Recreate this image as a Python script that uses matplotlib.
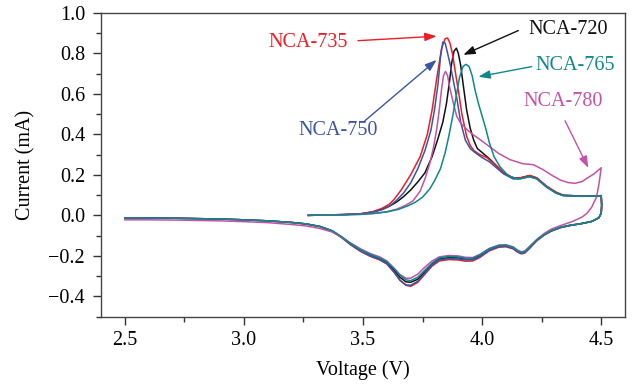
import matplotlib
matplotlib.use("Agg")
import matplotlib.pyplot as plt
from matplotlib.ticker import MultipleLocator, FuncFormatter

plt.rcParams['font.family'] = ['Liberation Serif', 'DejaVu Serif']

# ---------------- data ----------------
# Anodic sweeps (3.27 V -> 4.5 V)
V_AN_720 = [3.27, 3.35, 3.42, 3.49, 3.54, 3.58, 3.61, 3.64, 3.67, 3.70, 3.73, 3.76, 3.79, 3.815, 3.835, 3.85,
            3.862, 3.872, 3.882, 3.892, 3.90, 3.91, 3.92, 3.935, 3.95, 3.965, 3.98, 4.005, 4.03, 4.06, 4.09,
            4.13, 4.16, 4.20, 4.23, 4.27, 4.31, 4.34, 4.42, 4.50]
I_AN_720 = [0.000, 0.002, 0.004, 0.008, 0.016, 0.030, 0.045, 0.065, 0.092, 0.125, 0.165, 0.210, 0.290,
            0.380, 0.460, 0.550, 0.650, 0.750, 0.810, 0.825, 0.800, 0.740, 0.650, 0.520, 0.430, 0.370,
            0.330, 0.305, 0.280, 0.245, 0.210, 0.185, 0.185, 0.196, 0.184, 0.143, 0.113, 0.099, 0.095, 0.097]

V_AN_735 = [3.27, 3.35, 3.42, 3.49, 3.54, 3.58, 3.61, 3.63, 3.66, 3.70, 3.74, 3.77, 3.79, 3.81, 3.83, 3.845,
            3.855, 3.865, 3.875, 3.89, 3.905, 3.915, 3.935, 3.95, 3.965, 3.99, 4.02, 4.06, 4.09, 4.13, 4.16,
            4.20, 4.23, 4.27, 4.31, 4.34, 4.42, 4.50]
I_AN_735 = [0.000, 0.002, 0.004, 0.008, 0.018, 0.035, 0.055, 0.078, 0.125, 0.200, 0.290, 0.400, 0.520,
            0.680, 0.825, 0.872, 0.875, 0.850, 0.800, 0.690, 0.580, 0.500, 0.390, 0.345, 0.320, 0.300,
            0.285, 0.245, 0.210, 0.185, 0.185, 0.197, 0.185, 0.145, 0.115, 0.100, 0.095, 0.097]

V_AN_750 = [3.27, 3.35, 3.42, 3.49, 3.54, 3.58, 3.61, 3.64, 3.67, 3.70, 3.73, 3.76, 3.785, 3.80, 3.815, 3.825,
            3.835, 3.845, 3.855, 3.865, 3.88, 3.895, 3.91, 3.93, 3.95, 3.97, 4.00, 4.03, 4.06, 4.09, 4.13,
            4.16, 4.20, 4.23, 4.27, 4.31, 4.34, 4.42, 4.50]
I_AN_750 = [0.000, 0.002, 0.004, 0.007, 0.015, 0.028, 0.045, 0.073, 0.110, 0.160, 0.230, 0.320, 0.420,
            0.520, 0.650, 0.780, 0.855, 0.850, 0.800, 0.750, 0.660, 0.570, 0.460, 0.370, 0.330, 0.310,
            0.285, 0.265, 0.235, 0.205, 0.180, 0.180, 0.192, 0.180, 0.140, 0.110, 0.098, 0.094, 0.097]

V_AN_765 = [3.27, 3.35, 3.42, 3.49, 3.55, 3.60, 3.65, 3.69, 3.72, 3.75, 3.78, 3.80, 3.825, 3.845, 3.86, 3.875,
            3.89, 3.905, 3.92, 3.932, 3.945, 3.958, 3.97, 3.985, 4.00, 4.015, 4.03, 4.05, 4.075, 4.11, 4.15,
            4.20, 4.23, 4.27, 4.31, 4.34, 4.42, 4.50]
I_AN_765 = [0.000, 0.002, 0.003, 0.005, 0.010, 0.017, 0.030, 0.048, 0.065, 0.090, 0.130, 0.170, 0.230,
            0.310, 0.390, 0.480, 0.580, 0.680, 0.735, 0.745, 0.735, 0.690, 0.620, 0.550, 0.490, 0.430,
            0.360, 0.290, 0.240, 0.195, 0.180, 0.190, 0.180, 0.140, 0.110, 0.097, 0.094, 0.097]

V_AN_780 = [3.27, 3.35, 3.42, 3.49, 3.55, 3.60, 3.64, 3.68, 3.71, 3.74, 3.76, 3.78, 3.795, 3.81, 3.82, 3.83,
            3.838, 3.846, 3.855, 3.865, 3.88, 3.893, 3.91, 3.935, 3.96, 3.99, 4.03, 4.07, 4.117, 4.17, 4.215,
            4.257, 4.29, 4.327, 4.36, 4.39, 4.42, 4.44, 4.47, 4.50]
I_AN_780 = [0.000, 0.002, 0.003, 0.005, 0.010, 0.018, 0.030, 0.050, 0.072, 0.120, 0.180, 0.255, 0.330,
            0.430, 0.520, 0.625, 0.690, 0.710, 0.690, 0.625, 0.550, 0.490, 0.455, 0.425, 0.400, 0.375,
            0.340, 0.305, 0.275, 0.255, 0.250, 0.225, 0.200, 0.175, 0.162, 0.158, 0.167, 0.183, 0.205, 0.235]

# Cathodic sweeps (4.5 V -> 2.5 V)
V_CA = [4.500, 4.502, 4.500, 4.49, 4.46, 4.42, 4.37, 4.33, 4.29, 4.26, 4.23, 4.20, 4.18, 4.165, 4.15, 4.13,
        4.10, 4.07, 4.03, 3.99, 3.96, 3.93, 3.90, 3.86, 3.82, 3.79, 3.76, 3.73, 3.70, 3.68, 3.655, 3.63,
        3.60, 3.57, 3.53, 3.49, 3.45, 3.41, 3.37, 3.32, 3.26, 3.20, 3.10, 3.00, 2.90, 2.80, 2.70, 2.60, 2.50]
I_CA_720 = [0.097, 0.050, 0.010, -0.012, -0.030, -0.040, -0.049, -0.059, -0.076, -0.096, -0.122, -0.158,
            -0.181, -0.186, -0.178, -0.161, -0.150, -0.152, -0.170, -0.200, -0.215, -0.215, -0.210, -0.208,
            -0.215, -0.240, -0.278, -0.315, -0.330, -0.328, -0.305, -0.270, -0.232, -0.214, -0.196, -0.173,
            -0.143, -0.107, -0.076, -0.055, -0.042, -0.035, -0.027, -0.022, -0.018, -0.016, -0.014, -0.013, -0.012]
I_CA_735 = [0.098, 0.050, 0.010, -0.012, -0.030, -0.040, -0.050, -0.060, -0.078, -0.098, -0.125, -0.162,
            -0.185, -0.190, -0.182, -0.165, -0.155, -0.157, -0.175, -0.208, -0.225, -0.226, -0.220, -0.218,
            -0.225, -0.250, -0.290, -0.330, -0.350, -0.345, -0.320, -0.280, -0.240, -0.220, -0.202, -0.178,
            -0.147, -0.110, -0.078, -0.056, -0.043, -0.035, -0.027, -0.022, -0.018, -0.016, -0.014, -0.013, -0.012]
I_CA_750 = [0.097, 0.050, 0.010, -0.012, -0.030, -0.040, -0.050, -0.060, -0.077, -0.097, -0.123, -0.160,
            -0.183, -0.188, -0.180, -0.163, -0.152, -0.154, -0.172, -0.204, -0.220, -0.220, -0.215, -0.213,
            -0.220, -0.245, -0.285, -0.325, -0.345, -0.343, -0.320, -0.280, -0.238, -0.218, -0.200, -0.176,
            -0.145, -0.108, -0.077, -0.055, -0.042, -0.035, -0.027, -0.022, -0.018, -0.016, -0.014, -0.013, -0.012]
I_CA_765 = [0.097, 0.050, 0.010, -0.012, -0.030, -0.040, -0.048, -0.058, -0.075, -0.095, -0.120, -0.155,
            -0.178, -0.183, -0.175, -0.158, -0.147, -0.148, -0.165, -0.195, -0.212, -0.212, -0.205, -0.203,
            -0.210, -0.235, -0.270, -0.305, -0.322, -0.318, -0.295, -0.262, -0.228, -0.210, -0.192, -0.170,
            -0.140, -0.105, -0.075, -0.055, -0.042, -0.035, -0.027, -0.022, -0.018, -0.016, -0.014, -0.013, -0.012]

V_CA_780 = [4.500, 4.49, 4.48, 4.46, 4.44, 4.42, 4.38, 4.33, 4.29, 4.26, 4.23, 4.20, 4.18, 4.165, 4.15, 4.13,
            4.10, 4.07, 4.03, 3.99, 3.96, 3.93, 3.90, 3.86, 3.82, 3.79, 3.76, 3.73, 3.70, 3.68, 3.655, 3.63,
            3.60, 3.57, 3.53, 3.49, 3.45, 3.41, 3.37, 3.32, 3.26, 3.20, 3.10, 3.00, 2.90, 2.80, 2.70, 2.60, 2.50]
I_CA_780 = [0.235, 0.150, 0.090, 0.040, 0.010, -0.008, -0.030, -0.050, -0.068, -0.090, -0.118, -0.152,
            -0.175, -0.180, -0.172, -0.155, -0.145, -0.147, -0.163, -0.193, -0.208, -0.207, -0.200, -0.198,
            -0.205, -0.225, -0.255, -0.290, -0.310, -0.310, -0.292, -0.260, -0.225, -0.205, -0.188, -0.165,
            -0.138, -0.108, -0.082, -0.065, -0.052, -0.045, -0.036, -0.031, -0.027, -0.025, -0.023, -0.022, -0.022]

LABELS = ["NCA-720", "NCA-735", "NCA-750", "NCA-780", "NCA-765"]
COLORS = {"NCA-720": "#111111", "NCA-735": "#ee1c25", "NCA-750": "#3b54a5",
          "NCA-765": "#10878a", "NCA-780": "#c452a8"}

curves = {
    "NCA-720": (V_AN_720, I_AN_720, V_CA, I_CA_720),
    "NCA-735": (V_AN_735, I_AN_735, V_CA, I_CA_735),
    "NCA-750": (V_AN_750, I_AN_750, V_CA, I_CA_750),
    "NCA-780": (V_AN_780, I_AN_780, V_CA_780, I_CA_780),
    "NCA-765": (V_AN_765, I_AN_765, V_CA, I_CA_765),
}

# ---------------- figure ----------------
FS = 14.5
fig = plt.figure(figsize=(6.37, 3.85), dpi=100)
ax = fig.add_axes([0.1586, 0.1774, 0.8226, 0.7896])

for name in LABELS:
    va, ia, vc, ic = curves[name]
    ax.plot(list(va) + list(vc), list(ia) + list(ic), color=COLORS[name], lw=1.1,
            solid_joinstyle='round')

ax.set_xlim(2.4, 4.6)
ax.set_ylim(-0.5, 1.0)
ax.xaxis.set_major_locator(MultipleLocator(0.5))
ax.xaxis.set_minor_locator(MultipleLocator(0.25))
ax.yaxis.set_major_locator(MultipleLocator(0.2))
ax.yaxis.set_minor_locator(MultipleLocator(0.1))
fmt = FuncFormatter(lambda v, p: ("%.1f" % v).replace('-', '\u2212') if abs(v) > 1e-9 else "0.0")
ax.xaxis.set_major_formatter(fmt)
ax.yaxis.set_major_formatter(fmt)
ax.tick_params(which='both', direction='out', top=False, right=False, labelsize=FS,
               color='#333333', width=1.0)
ax.tick_params(which='major', length=6)
ax.tick_params(which='minor', length=3.5)
ax.tick_params(axis='y', which='major', pad=5.5)
ax.tick_params(axis='x', which='major', pad=4.5)
for s in ax.spines.values():
    s.set_color('#444444')
    s.set_linewidth(1.0)

ax.set_xlabel("Voltage (V)", fontsize=FS, labelpad=7)
ax.set_ylabel("Current (mA)", fontsize=FS, labelpad=9)

# annotations: (text, text_xy, ha, arrow_tail, arrow_head)
ANN = [
    ("NCA-735", (3.437, 0.855), 'right', (3.479, 0.862), (3.809, 0.884)),
    ("NCA-720", (4.193, 0.915), 'left', (4.152, 0.912), (3.921, 0.792)),
    ("NCA-765", (4.222, 0.740), 'left', (4.208, 0.734), (3.984, 0.684)),
    ("NCA-780", (4.172, 0.560), 'left', (4.348, 0.467), (4.446, 0.234)),
    ("NCA-750", (3.562, 0.420), 'right', (3.508, 0.467), (3.809, 0.767)),
]
for txt, pos, ha, tail, head in ANN:
    c = COLORS[txt]
    ax.text(pos[0], pos[1], txt, color=c, fontsize=FS, ha=ha, va='center')
    ax.annotate('', xy=head, xytext=tail,
                arrowprops=dict(arrowstyle='-|>,head_length=0.7,head_width=0.25',
                                color=c, lw=1.0, shrinkA=0, shrinkB=0, mutation_scale=10))

fig.savefig("out.png", dpi=100)
